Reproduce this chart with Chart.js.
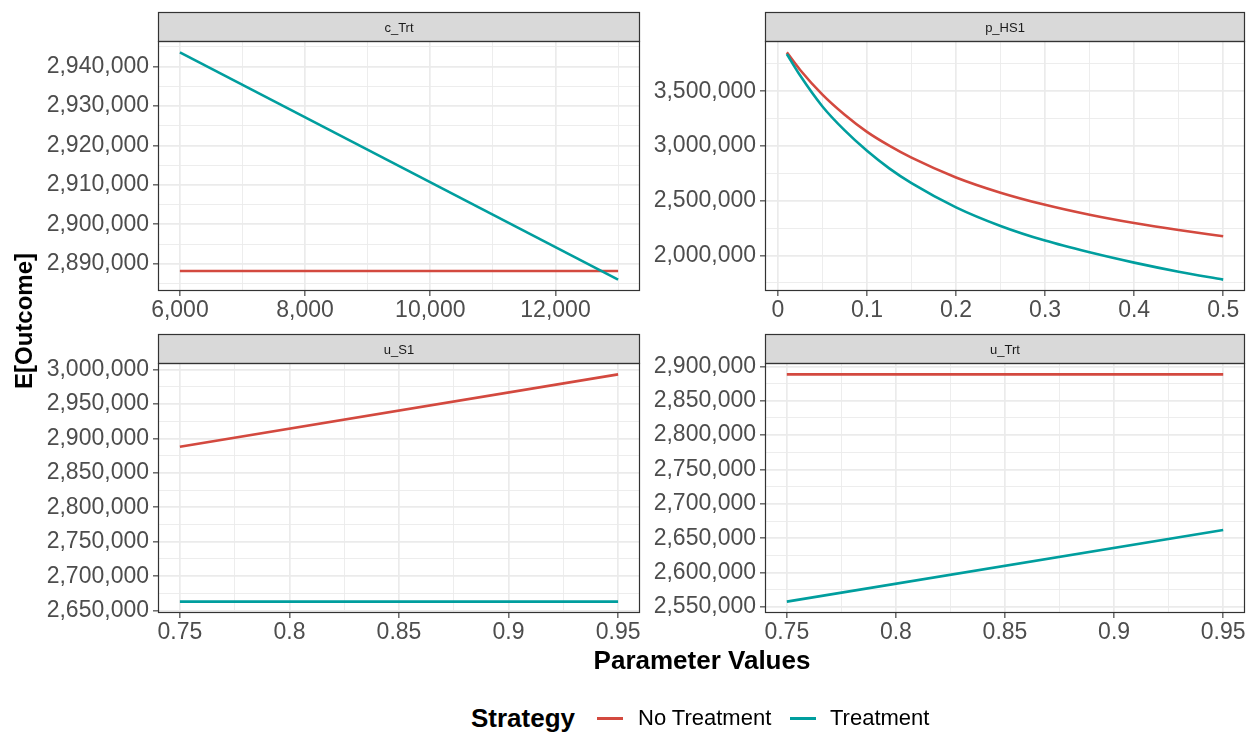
<!DOCTYPE html>
<html>
<head>
<meta charset="utf-8">
<script src="https://cdn.jsdelivr.net/npm/chart.js@4.4.1/dist/chart.umd.min.js"></script>
<style>
html,body{margin:0;padding:0;background:#ffffff;}
#wrap{position:relative;width:1257px;height:736px;overflow:hidden;font-family:"Liberation Sans",Arial,sans-serif;background:#fff;}
canvas.pc{position:absolute;}
#ytitle{position:absolute;left:24px;top:321px;transform:translate(-50%,-50%) rotate(-90deg);font-weight:bold;font-size:24px;white-space:nowrap;color:#000;}
#xtitle{position:absolute;left:702px;top:660px;transform:translate(-50%,-50%);font-weight:bold;font-size:26px;white-space:nowrap;color:#000;}
.lg{position:absolute;top:718px;transform:translateY(-50%);white-space:nowrap;color:#000;}
.lgt{font-weight:bold;font-size:26px;}
.lgl{font-size:22px;}
.sw{position:absolute;top:717px;height:3px;width:26px;}
</style>
</head>
<body>
<div id="wrap">
  <canvas id="p1" class="pc" width="660" height="325" style="left:0px;top:0px;width:660px;height:325px;"></canvas>
  <canvas id="p2" class="pc" width="617" height="325" style="left:640px;top:0px;width:617px;height:325px;"></canvas>
  <canvas id="p3" class="pc" width="660" height="325" style="left:0px;top:322px;width:660px;height:325px;"></canvas>
  <canvas id="p4" class="pc" width="617" height="325" style="left:640px;top:322px;width:617px;height:325px;"></canvas>
  <div id="ytitle">E[Outcome]</div>
  <div id="xtitle">Parameter Values</div>
  <div class="lg lgt" style="left:471px;">Strategy</div>
  <div class="sw" id="sw1" style="left:597px;"></div>
  <div class="lg lgl" style="left:638px;" id="lab1"></div>
  <div class="sw" id="sw2" style="left:790px;"></div>
  <div class="lg lgl" style="left:830px;" id="lab2"></div>
</div>
<script>
// ---------------- data ----------------
const panelNames = ['c_Trt', 'p_HS1', 'u_S1', 'u_Trt'];
const seriesNames = ['No Treatment', 'Treatment'];
const seriesColors = ['#D3493F', '#009E9E'];

// c_Trt
const cTrtX = [6000, 13000];
const cTrtNoTrt = [2888200, 2888200];
const cTrtTrt = [2943550, 2886000];
const cTrtXTicks = [6000, 8000, 10000, 12000];
const cTrtYTicks = [2890000, 2900000, 2910000, 2920000, 2930000, 2940000];

// p_HS1
const pHS1X = [0.01, 0.025, 0.05, 0.075, 0.1, 0.125, 0.15, 0.2, 0.25, 0.3, 0.35, 0.4, 0.45, 0.5];
const pHS1NoTrt = [3856000, 3695000, 3470000, 3286000, 3130000, 3004000, 2894000, 2714000, 2575000, 2464000, 2373000, 2297000, 2233000, 2176500];
const pHS1Trt = [3841000, 3644000, 3362000, 3143000, 2957000, 2797000, 2662000, 2441000, 2271000, 2137000, 2030000, 1936000, 1853000, 1780500];
const pHS1XTicks = [0, 0.1, 0.2, 0.3, 0.4, 0.5];
const pHS1YTicks = [2000000, 2500000, 3000000, 3500000];

// u_S1
const uS1X = [0.75, 0.95];
const uS1NoTrt = [2888000, 2993200];
const uS1Trt = [2663000, 2663000];
const uS1XTicks = [0.75, 0.8, 0.85, 0.9, 0.95];
const uS1YTicks = [2650000, 2700000, 2750000, 2800000, 2850000, 2900000, 2950000, 3000000];

// u_Trt
const uTrtX = [0.75, 0.95];
const uTrtNoTrt = [2888400, 2888400];
const uTrtTrt = [2557700, 2662000];
const uTrtXTicks = [0.75, 0.8, 0.85, 0.9, 0.95];
const uTrtYTicks = [2550000, 2600000, 2650000, 2700000, 2750000, 2800000, 2850000, 2900000];

// ---------------- helpers ----------------
const FONT = '"Liberation Sans", Arial, sans-serif';
Chart.defaults.font.family = FONT;

function fmt(v) {
  return Number(v.toPrecision(12)).toLocaleString('en-US', {maximumFractionDigits: 6});
}
function expand(vals) {
  const mn = Math.min(...vals), mx = Math.max(...vals);
  const d = (mx - mn) * 0.05;
  return [mn - d, mx + d];
}
function tickObjs(majors, mn, mx) {
  const step = majors[1] - majors[0];
  const out = majors.filter(v => v >= mn && v <= mx).map(v => ({value: v, minor: false}));
  const cands = [majors[0] - step / 2].concat(majors.map(v => v + step / 2));
  cands.forEach(v => {
    const r = Number(v.toPrecision(12));
    if (r >= mn && r <= mx) out.push({value: r, minor: true});
  });
  out.sort((a, b) => a.value - b.value);
  return out;
}

const stripPlugin = {
  id: 'strip',
  afterDraw(chart, args, opts) {
    const {ctx, chartArea: a} = chart;
    const L = Math.round(a.left) + 0.5, R = Math.round(a.right) - 0.5;
    const T = Math.round(a.top) + 0.5, B = Math.round(a.bottom) - 0.5;
    const h = 29;
    ctx.save();
    ctx.fillStyle = '#D9D9D9';
    ctx.fillRect(L, T - h, R - L, h);
    ctx.strokeStyle = '#333333';
    ctx.lineWidth = 1.2;
    ctx.strokeRect(L, T - h, R - L, h);
    ctx.strokeRect(L, T, R - L, B - T);
    ctx.fillStyle = '#1A1A1A';
    ctx.font = '13px ' + FONT;
    ctx.textAlign = 'center';
    ctx.textBaseline = 'middle';
    ctx.fillText(opts.label, (L + R) / 2, T - h / 2 + 1);
    ctx.restore();
  }
};

function gridOpts() {
  return {
    color: c => '#EBEBEB',
    lineWidth: c => (c.tick && c.tick.minor) ? 0.9 : 1.7,
    tickLength: 5,
    tickWidth: 1.1,
    tickColor: c => (c.tick && c.tick.minor) ? 'rgba(0,0,0,0)' : '#333333',
    drawTicks: true
  };
}

function makePanel(id, name, xs, s1, s2, xMaj, yMaj, yAxisW, padRight, smooth) {
  const [xmin, xmax] = expand(xs);
  const [ymin, ymax] = expand(s1.concat(s2));
  const xT = tickObjs(xMaj, xmin, xmax);
  const yT = tickObjs(yMaj, ymin, ymax);
  const mk = (arr) => xs.map((x, i) => ({x: x, y: arr[i]}));
  const ds = (k, arr) => ({
    label: seriesNames[k],
    data: mk(arr),
    borderColor: seriesColors[k],
    backgroundColor: seriesColors[k],
    borderWidth: 2.6,
    pointRadius: 0,
    pointHoverRadius: 0,
    fill: false,
    tension: 0,
    cubicInterpolationMode: smooth ? 'monotone' : 'default',
    order: k === 0 ? 1 : 0,
    clip: false
  });
  return new Chart(document.getElementById(id), {
    type: 'line',
    data: {datasets: [ds(0, s1), ds(1, s2)]},
    options: {
      responsive: false,
      animation: false,
      devicePixelRatio: 1,
      layout: {padding: {top: 41, right: padRight, bottom: 0, left: 0}},
      plugins: {legend: {display: false}, tooltip: {enabled: false}, strip: {label: name}},
      scales: {
        x: {
          type: 'linear', min: xmin, max: xmax, bounds: 'data',
          afterBuildTicks: s => { s.ticks = xT.map(t => ({value: t.value, minor: t.minor})); },
          afterFit: s => { s.height = 34; },
          ticks: {
            autoSkip: false, maxRotation: 0, minRotation: 0, padding: 1,
            color: '#4D4D4D', font: {size: 23, family: FONT},
            callback: (v, i, t) => (t[i] && t[i].minor) ? '' : fmt(v)
          },
          grid: gridOpts(),
          border: {display: false}
        },
        y: {
          type: 'linear', min: ymin, max: ymax, bounds: 'data', position: 'left',
          afterBuildTicks: s => { s.ticks = yT.map(t => ({value: t.value, minor: t.minor})); },
          afterFit: s => { s.width = yAxisW; },
          ticks: {
            autoSkip: false, padding: 4,
            color: '#4D4D4D', font: {size: 23, family: FONT},
            callback: (v, i, t) => (t[i] && t[i].minor) ? '' : fmt(v)
          },
          grid: gridOpts(),
          border: {display: false}
        }
      }
    },
    plugins: [stripPlugin]
  });
}

makePanel('p1', panelNames[0], cTrtX, cTrtNoTrt, cTrtTrt, cTrtXTicks, cTrtYTicks, 158, 20, false);
makePanel('p2', panelNames[1], pHS1X, pHS1NoTrt, pHS1Trt, pHS1XTicks, pHS1YTicks, 125, 12, true);
makePanel('p3', panelNames[2], uS1X, uS1NoTrt, uS1Trt, uS1XTicks, uS1YTicks, 158, 20, false);
makePanel('p4', panelNames[3], uTrtX, uTrtNoTrt, uTrtTrt, uTrtXTicks, uTrtYTicks, 125, 12, false);

document.getElementById('sw1').style.background = seriesColors[0];
document.getElementById('sw2').style.background = seriesColors[1];
document.getElementById('lab1').textContent = seriesNames[0];
document.getElementById('lab2').textContent = seriesNames[1];
</script>
</body>
</html>
